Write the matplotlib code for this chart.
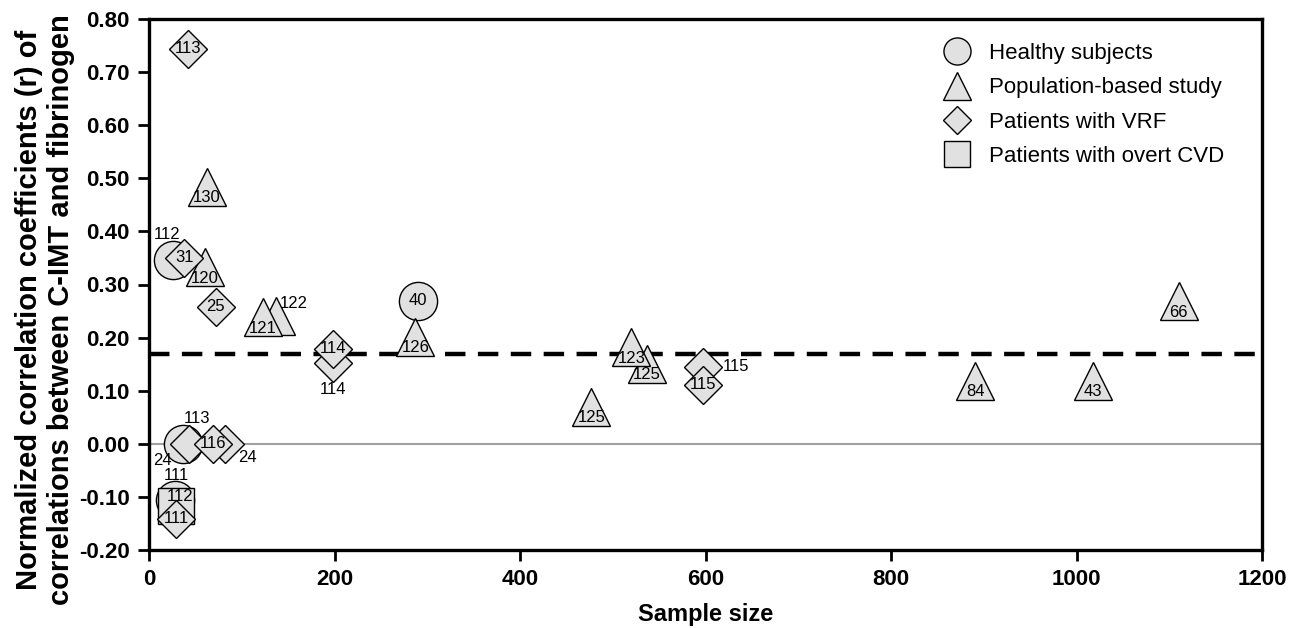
import matplotlib
matplotlib.use('Agg')
import matplotlib.pyplot as plt
from matplotlib.lines import Line2D

plt.rcParams['font.family'] = ['Liberation Sans', 'DejaVu Sans']

# sample size / normalized r / study reference number, per group
healthy_n = [26, 290, 37, 28]
healthy_r = [0.347, 0.269, 0.0, -0.105]
healthy_lbl = ['112', '40', '24', '111']

population_n = [62, 60, 137, 123, 287, 537, 520, 477, 891, 1018, 1110]
population_r = [0.484, 0.333, 0.241, 0.239, 0.202, 0.151, 0.182, 0.070, 0.119, 0.119, 0.269]
population_lbl = ['130', '120', '122', '121', '126', '125', '123', '125', '84', '43', '66']

vrf_n = [42, 38, 72, 198, 198, 597, 597, 43, 82, 69, 29]
vrf_r = [0.744, 0.35, 0.258, 0.152, 0.179, 0.145, 0.111, 0.0, 0.0, 0.0, -0.141]
vrf_lbl = ['113', '31', '25', '114', '114', '115', '115', '113', '24', '116', '111']

cvd_n = [29]
cvd_r = [-0.117]
cvd_lbl = ['112']

pooled_r = 0.17

x_ticks = [0, 200, 400, 600, 800, 1000, 1200]
y_ticks = [-0.2, -0.1, 0.0, 0.1, 0.2, 0.3, 0.4, 0.5, 0.6, 0.7, 0.8]

group_names = ['Healthy subjects', 'Population-based study',
               'Patients with VRF', 'Patients with overt CVD']

FILL = '#e1e1e1'

fig = plt.figure(figsize=(12.96, 6.28), dpi=100)
ax = fig.add_axes([149 / 1296, 1 - 550 / 628, 1113 / 1296, 531 / 628])

ax.axhline(0, color='#a0a0a0', lw=1.5, zorder=1)
ax.axhline(pooled_r, color='black', lw=3.2, ls=(0, (4.6, 2.8)), zorder=2)

zc = [3]


def draw_group(n, r, labels, marker, ms, offsets, default_off):
    for i, (x, y, lab) in enumerate(zip(n, r, labels)):
        z = zc[0]
        ax.plot(x, y, marker=marker, ms=ms, mfc=FILL, mec='black', mew=1.0,
                ls='none', zorder=z, clip_on=False)
        dx, dy = offsets.get(i, default_off)
        ax.annotate(lab, (x, y), xytext=(dx, dy), textcoords='offset points',
                    ha='center', va='center', fontsize=12, zorder=z + 0.5)
        zc[0] += 1


draw_group(healthy_n, healthy_r, healthy_lbl, 'o', 27.5,
           {0: (-4, 18), 2: (-15, -12), 3: (1, 17)}, (0, 0))
draw_group(population_n, population_r, population_lbl, '^', 28,
           {2: (13, 9)}, (0, -8))
draw_group(cvd_n, cvd_r, cvd_lbl, 's', 26.5, {0: (3, 7)}, (0, 0))
draw_group(vrf_n, vrf_r, vrf_lbl, 'D', 19.5,
           {3: (0, -19), 5: (24, 0), 7: (6, 18), 8: (16, -10)}, (0, 0))

ax.set_xlim(0, 1200)
ax.set_ylim(-0.2, 0.8)
ax.set_xticks(x_ticks)
ax.set_yticks(y_ticks)
ax.set_yticklabels(['%.2f' % v for v in y_ticks])
ax.tick_params(direction='out', length=8, width=2, labelsize=16, pad=6)
for lbl in ax.get_xticklabels() + ax.get_yticklabels():
    lbl.set_fontweight('bold')
for sp in ax.spines.values():
    sp.set_linewidth(2.4)

ax.set_xlabel('Sample size', fontsize=17, fontweight='bold', labelpad=9)
fig.text(45 / 1296, 1 - 310 / 628,
         'Normalized correlation coefficients (r) of\n'
         'correlations between C-IMT and fibrinogen',
         rotation=90, ha='center', va='center', fontsize=21,
         fontweight='bold', multialignment='center')

handles = [
    Line2D([], [], marker='o', ms=19.5, mfc=FILL, mec='black', ls='none'),
    Line2D([], [], marker='^', ms=20, mfc=FILL, mec='black', ls='none'),
    Line2D([], [], marker='D', ms=14, mfc=FILL, mec='black', ls='none'),
    Line2D([], [], marker='s', ms=19, mfc=FILL, mec='black', ls='none'),
]
ax.legend(handles, group_names, loc='upper left',
          bbox_to_anchor=(940 / 1296, 1 - 43 / 628),
          bbox_transform=fig.transFigure, frameon=False, fontsize=16,
          handlelength=1.5, handletextpad=0.7, labelspacing=0.6,
          borderpad=0, borderaxespad=0)

fig.savefig('out.png', dpi=100)
